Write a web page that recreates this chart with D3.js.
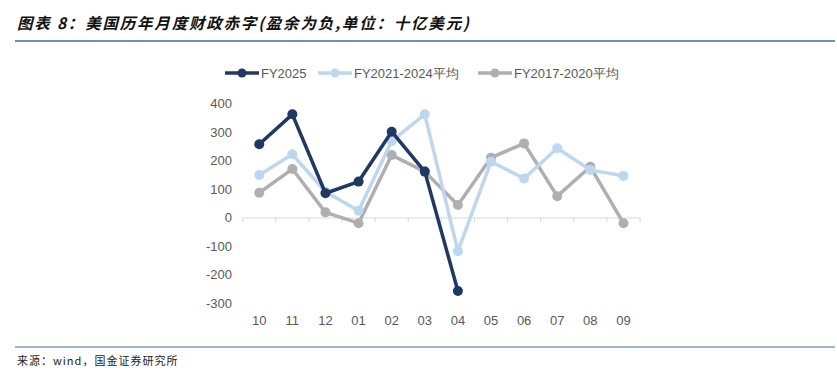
<!DOCTYPE html>
<html><head><meta charset="utf-8">
<script src="https://cdn.jsdelivr.net/npm/d3@7"></script>
<style>body{margin:0;background:#fff}svg{display:block}</style>
</head><body><svg id="c" width="837" height="376"></svg>
<script>
const months = ["10","11","12","01","02","03","04","05","06","07","08","09"];
const fy2025 = [257, 362, 85, 126, 301, 161, -258];
const avg2124 = [149, 222, 90, 24, 268, 362, -118, 196, 137, 243, 167, 146];
const avg1720 = [87, 170, 18, -20, 219, 161, 44, 210, 260, 75, 178, -20];
const yTicks = [400, 300, 200, 100, 0, -100, -200, -300];
const seriesNames = ["FY2025", "FY2021-2024平均", "FY2017-2020平均"];

const svg = d3.select("#c");
const font = "'Liberation Sans', Arial, sans-serif";
const cjk = "'Noto Sans CJK SC', sans-serif";

// Title
svg.append("text").attr("x", 17).attr("y", 29)
  .attr("font-family", cjk).attr("font-size", 15.5).attr("font-style", "italic").attr("font-weight", 600)
  .attr("letter-spacing", 1.8)
  .attr("fill", "#111").text("图表 8：美国历年月度财政赤字(盈余为负,单位：十亿美元)");
svg.append("line").attr("x1", 15).attr("x2", 835).attr("y1", 41).attr("y2", 41)
  .attr("stroke", "#3b6e95").attr("stroke-width", 1.6);

// Footer
svg.append("line").attr("x1", 15).attr("x2", 835).attr("y1", 347).attr("y2", 347)
  .attr("stroke", "#3b6e95").attr("stroke-width", 1.2);
svg.append("text").attr("x", 17).attr("y", 365)
  .attr("font-family", cjk).attr("font-size", 11).attr("letter-spacing", 1)
  .attr("fill", "#222").text("来源：wind，国金证券研究所");

// Scales
const x = d3.scaleBand().domain(months).range([242.7, 640]);
const y = d3.scaleLinear().domain([0, 400]).range([217.5, 103.5]);
const cx = d => x(d) + x.bandwidth() / 2;

// Y axis labels
svg.append("g").selectAll("text").data(yTicks).join("text")
  .attr("x", 232).attr("y", d => y(d)).attr("dy", "0.35em").attr("text-anchor", "end")
  .attr("font-family", font).attr("font-size", 13).attr("fill", "#595959").text(d => d);

// X axis
const xAxis = svg.append("g").attr("transform", `translate(0,${y(0)})`)
  .call(d3.axisBottom(x).tickSize(0).tickFormat(""));
xAxis.select(".domain").attr("stroke", "#d9d9d9").attr("stroke-width", 1);
const bounds = months.map(m => x(m)).concat([x.range()[1]]);
svg.append("g").selectAll("line").data(bounds).join("line")
  .attr("x1", d => d).attr("x2", d => d).attr("y1", y(0)).attr("y2", y(0) + 5)
  .attr("stroke", "#d9d9d9").attr("stroke-width", 1);
svg.append("g").selectAll("text").data(months).join("text")
  .attr("x", d => cx(d)).attr("y", 320).attr("dy", "0.35em").attr("text-anchor", "middle")
  .attr("font-family", font).attr("font-size", 13).attr("fill", "#595959").text(d => d);

const series = [
  {name: seriesNames[2], vals: avg1720, color: "#afafaf"},
  {name: seriesNames[1], vals: avg2124, color: "#bdd7ee"},
  {name: seriesNames[0], vals: fy2025, color: "#1f3864"}
];
const line = d3.line().x((d, i) => cx(months[i])).y(d => y(d));
series.forEach(s => {
  const g = svg.append("g");
  g.append("path").attr("d", line(s.vals)).attr("fill", "none")
    .attr("stroke", s.color).attr("stroke-width", 3.5).attr("stroke-linejoin", "round");
  g.selectAll("circle").data(s.vals).join("circle")
    .attr("cx", (d, i) => cx(months[i])).attr("cy", d => y(d)).attr("r", 5).attr("fill", s.color);
});

// Legend
const legend = [
  {name: seriesNames[0], color: "#1f3864", x: 225},
  {name: seriesNames[1], color: "#bdd7ee", x: 318},
  {name: seriesNames[2], color: "#afafaf", x: 478}
];
const lg = svg.append("g");
legend.forEach(l => {
  lg.append("line").attr("x1", l.x).attr("x2", l.x + 34).attr("y1", 73).attr("y2", 73)
    .attr("stroke", l.color).attr("stroke-width", 3.5);
  lg.append("circle").attr("cx", l.x + 17).attr("cy", 73).attr("r", 4.5).attr("fill", l.color);
  lg.append("text").attr("x", l.x + 36).attr("y", 73).attr("dy", "0.35em")
    .attr("font-family", font).attr("font-size", 13).attr("fill", "#595959").text(l.name);
});
</script></body></html>
